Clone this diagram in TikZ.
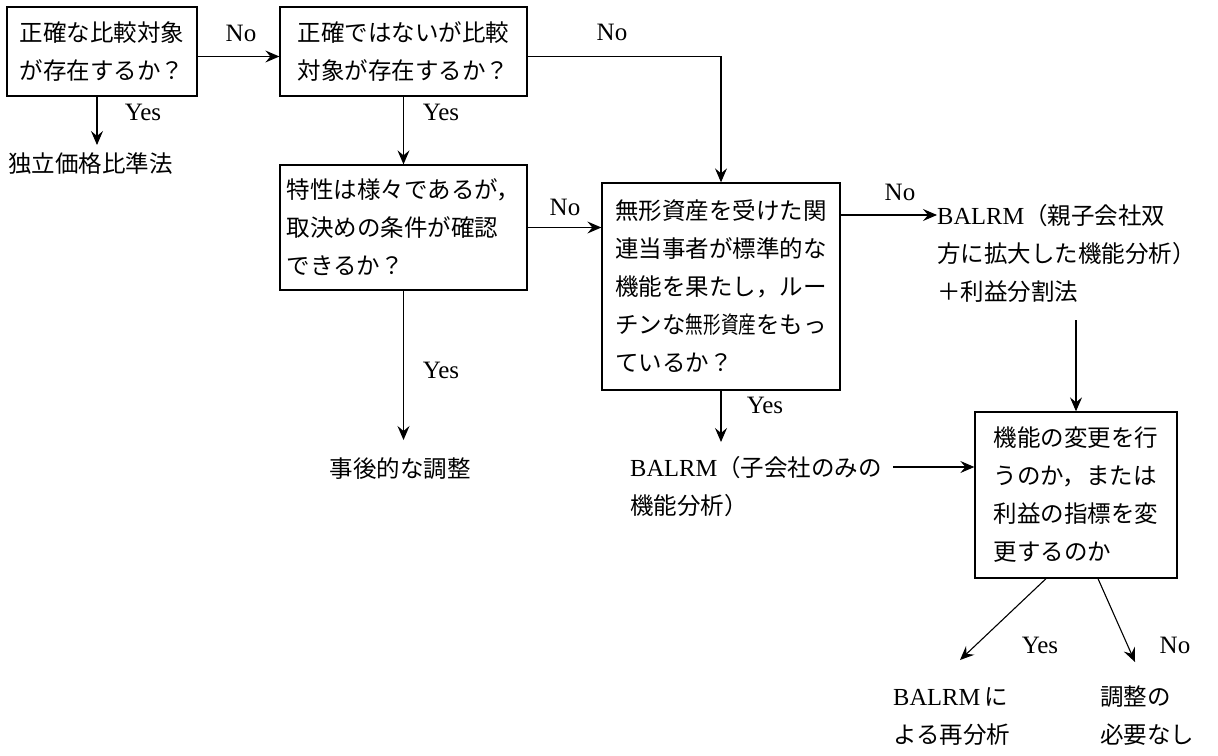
\documentclass[tikz,border=0pt]{standalone}
\usepackage{fontspec}
\usepackage{graphicx}
\setmainfont{Liberation Serif}
\newfontfamily\jp{Noto Sans CJK JP}
\usetikzlibrary{arrows.meta,calc}
\newcommand\lat[1]{{\rmfamily\fontsize{24.5}{38}\selectfont #1}}
\begin{document}
\begin{tikzpicture}[x=1pt,y=-1pt,
  txt/.style={font={\jp\fontsize{23.5}{38}\selectfont}, inner sep=0pt, align=left},
  box/.style={draw, line width=1.3pt, font={\jp\fontsize{23.5}{38}\selectfont}, align=left, inner sep=0pt},
  lbl/.style={font={\rmfamily\fontsize{25}{28}\selectfont}, inner sep=0pt},
  arr/.style={line width=1.1pt, -{Stealth[length=14pt,width=12pt,inset=5pt]}}]
\fill[white] (0,0) rectangle (1218,755);
\useasboundingbox (0,0) rectangle (1218,755);
% boxes
\node[box, minimum width=190pt, minimum height=89pt] (A) at (102,51.5) {正確な比較対象\\が存在するか？};
\node[box, minimum width=247pt, minimum height=89pt] (B) at (403.5,51.5) {正確ではないが比較\\対象が存在するか？};
\node[box, minimum width=247pt, minimum height=125pt] (C) at (403.5,227.5) {特性は様々であるが，\\取決めの条件が確認\\できるか？};
\node[box, minimum width=238pt, minimum height=207pt] (D) at (721,286.5) {無形資産を受けた関\\連当事者が標準的な\\機能を果たし，ルー\\チンな\scalebox{0.75}[1]{無形資産}をもっ\\ているか？};
\node[box, minimum width=202pt, minimum height=166pt] (E) at (1076,495) {機能の変更を行\\うのか，または\\利益の指標を変\\更するのか};
% free texts (base = baseline of last line)
\node[txt, anchor=base west] (indep) at (8,172) {独立価格比準法};
\node[txt, anchor=base] (adj) at (400,477) {事後的な調整};
\node[txt, anchor=base west] (sub) at (630,514) {\lat{BALRM}（子会社のみの\\機能分析）};
\node[txt, anchor=base west] (par) at (937,300) {\lat{BALRM}（親子会社双\\方に拡大した機能分析）\\＋利益分割法};
\node[txt, anchor=base west] (rean) at (893,743) {\lat{BALRM}\hspace{4pt}に\\よる再分析};
\node[txt, anchor=base west] (none) at (1100,743) {調整の\\必要なし};
% labels
\node[lbl] (noAB) at (241,33) {No};
\node[lbl] (noBD) at (612,32) {No};
\node[lbl] (yesA) at (143,112) {Yes};
\node[lbl] (yesB) at (441,112) {Yes};
\node[lbl] (noCD) at (565,207) {No};
\node[lbl] (yesC) at (441,370) {Yes};
\node[lbl] (noDP) at (900,192) {No};
\node[lbl] (yesD) at (765,405) {Yes};
\node[lbl] (yesE) at (1040,645) {Yes};
\node[lbl] (noE) at (1175,645) {No};
% helper coordinates
\coordinate (aTip) at (0,145);
\coordinate (cTip) at (0,440);
\coordinate (dTip) at (0,442);
\coordinate (dpy) at (0,215);
\coordinate (pStart) at (0,320);
\coordinate (sStart) at (893,467);
\coordinate (eY) at (960,660);
\coordinate (eN) at (1135,662);
% connectors
\draw[arr] ([yshift=-5pt]A.east) -- ([yshift=-5pt]B.west);
\draw[arr] ([yshift=-5pt]B.east) -| (D.north);
\draw[arr] ([xshift=-5pt]A.south) -- ([xshift=-5pt]A.south |- aTip);
\draw[arr] (B.south) -- (C.north);
\draw[arr] (C.east) -- (C.east -| D.west);
\draw[arr] (C.south) -- (C.south |- cTip);
\draw[arr] (D.south) -- (D.south |- dTip);
\draw[arr] (D.east |- dpy) -- (par.west |- dpy);
\draw[arr] (E.north |- pStart) -- (E.north);
\draw[arr] (sStart) -- (sStart -| E.west);
\draw[arr] ([xshift=-30pt]E.south) -- (eY);
\draw[arr] ([xshift=22pt]E.south) -- (eN);
\end{tikzpicture}
\end{document}
